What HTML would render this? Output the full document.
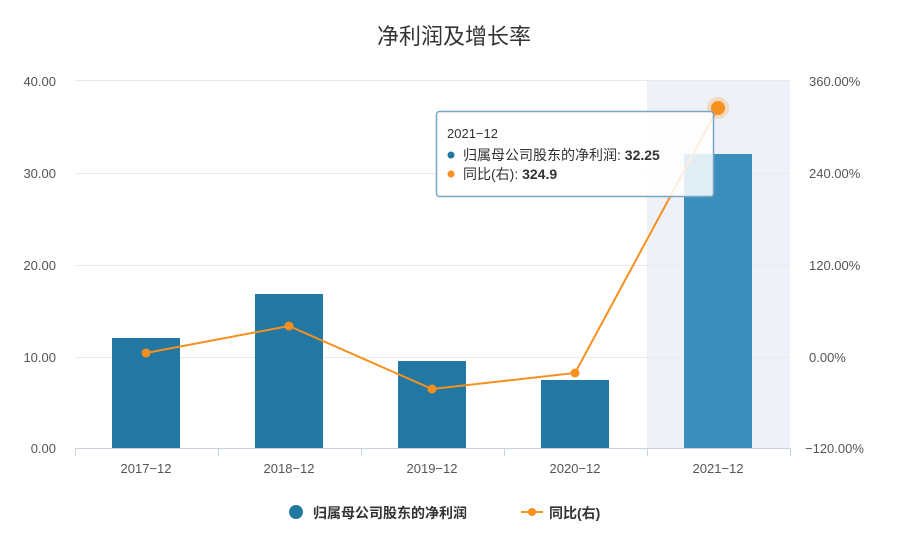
<!DOCTYPE html><html><head><meta charset="utf-8"><style>body{margin:0;background:#fff}svg{display:block}text{font-family:"Liberation Sans","Noto Sans CJK SC",sans-serif}</style></head><body>
<svg width="908" height="538" viewBox="0 0 908 538">
<text x="454" y="44" text-anchor="middle" font-size="22" fill="#333">净利润及增长率</text>
<rect x="647" y="80" width="143" height="368" fill="#eef2f8"/>
<g stroke="#e6e9ee" stroke-width="1">
<line x1="75" y1="80.5" x2="790" y2="80.5"/><line x1="75" y1="173.5" x2="790" y2="173.5"/><line x1="75" y1="265.5" x2="790" y2="265.5"/><line x1="75" y1="357.5" x2="790" y2="357.5"/></g>
<g stroke="#ccd3e0"><line x1="75" y1="448.5" x2="790" y2="448.5"/>
<line x1="75.5" y1="448" x2="75.5" y2="456"/><line x1="218.5" y1="448" x2="218.5" y2="456"/><line x1="361.5" y1="448" x2="361.5" y2="456"/><line x1="504.5" y1="448" x2="504.5" y2="456"/><line x1="647.5" y1="448" x2="647.5" y2="456"/><line x1="790.5" y1="448" x2="790.5" y2="456"/></g>
<g font-size="13" fill="#555" text-anchor="end">
<text x="56" y="86">40.00</text><text x="56" y="178">30.00</text><text x="56" y="270">20.00</text><text x="56" y="362">10.00</text><text x="56" y="453">0.00</text></g>
<g font-size="13" fill="#555">
<text x="809" y="86">360.00%</text><text x="809" y="178">240.00%</text><text x="809" y="270">120.00%</text><text x="809" y="362">0.00%</text><text x="805" y="453">−120.00%</text></g>
<g font-size="13" fill="#555" text-anchor="middle">
<text x="146" y="473">2017−12</text><text x="289" y="473">2018−12</text><text x="432" y="473">2019−12</text><text x="575" y="473">2020−12</text><text x="718" y="473">2021−12</text></g>
<g fill="#2277a3">
<rect x="112" y="338" width="68" height="110"/><rect x="255" y="294" width="68" height="154"/><rect x="398" y="361" width="68" height="87"/><rect x="541" y="380" width="68" height="68"/></g>
<rect x="684" y="154" width="68" height="294" fill="#3a8fbd"/>
<polyline points="146,353 289,326 432,389 575,373 718,108" fill="none" stroke="#f7901e" stroke-width="2"/>
<g fill="#f7901e"><circle cx="146" cy="353" r="4.5"/><circle cx="289" cy="326" r="4.5"/><circle cx="432" cy="389" r="4.5"/><circle cx="575" cy="373" r="4.5"/>
<circle cx="718" cy="108" r="11" fill="#f7901e" opacity="0.25"/><circle cx="718" cy="108" r="7"/></g>
<rect x="436.5" y="111.5" width="277" height="85" rx="3" fill="#fff" fill-opacity="0.85" stroke="#7ba5c4" stroke-width="1.5"/>
<text x="447" y="138" font-size="13" fill="#333">2021−12</text>
<circle cx="451" cy="155" r="3.5" fill="#2277a3"/><text x="463" y="160" font-size="14" fill="#333">归属母公司股东的净利润: <tspan font-weight="bold">32.25</tspan></text>
<circle cx="451" cy="174" r="3.5" fill="#f7901e"/><text x="463" y="179" font-size="14" fill="#333">同比(右): <tspan font-weight="bold">324.9</tspan></text>
<circle cx="296" cy="512" r="7" fill="#2277a3"/><text x="313" y="518" font-size="14" font-weight="bold" fill="#333">归属母公司股东的净利润</text>
<line x1="521" y1="512" x2="543" y2="512" stroke="#f7901e" stroke-width="2"/><circle cx="532" cy="512" r="4" fill="#f7901e"/><text x="549" y="518" font-size="14" font-weight="bold" fill="#333">同比(右)</text>
</svg></body></html>
